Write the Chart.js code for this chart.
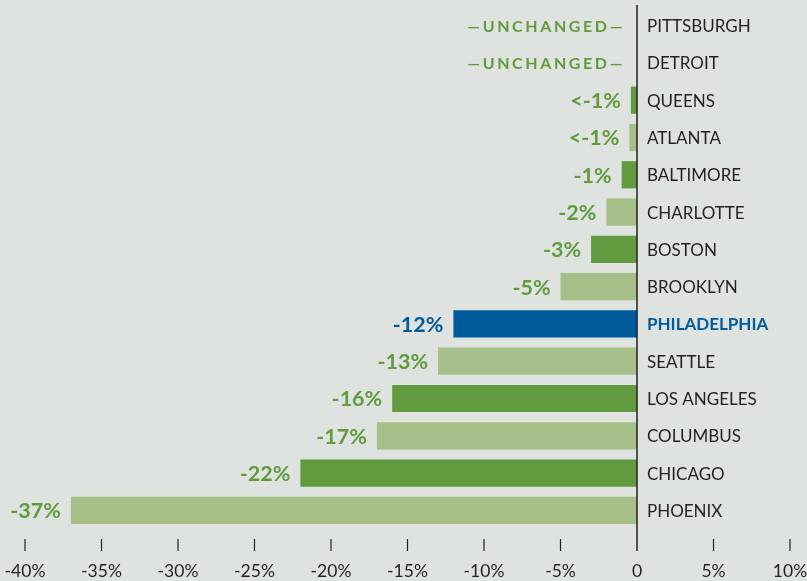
<!DOCTYPE html>
<html lang="en">
<head>
  <meta charset="UTF-8">
  <title>Change by city</title>
  <script src="https://cdn.jsdelivr.net/npm/chart.js"></script>
  <style>
    html, body {
      margin: 0;
      padding: 0;
      background-color: #dee3df;
    }
    .wrap {
      width: 807px;
      height: 581px;
    }
  </style>
</head>
<body>
  <div class="wrap">
    <canvas id="chartCity" width="807" height="581"></canvas>
  </div>

<script>
  // data
  const cities = ['PITTSBURGH', 'DETROIT', 'QUEENS', 'ATLANTA', 'BALTIMORE', 'CHARLOTTE', 'BOSTON',
    'BROOKLYN', 'PHILADELPHIA', 'SEATTLE', 'LOS ANGELES', 'COLUMBUS', 'CHICAGO', 'PHOENIX'];
  const changes = [0, 0, -0.4, -0.5, -1, -2, -3, -5, -12, -13, -16, -17, -22, -37];
  const valueLabels = ['\u2014UNCHANGED\u2014', '\u2014UNCHANGED\u2014', '<-1%', '<-1%', '-1%', '-2%', '-3%',
    '-5%', '-12%', '-13%', '-16%', '-17%', '-22%', '-37%'];
  const tickValues = [-40, -35, -30, -25, -20, -15, -10, -5, 0, 5, 10];
  const tickLabels = ['-40%', '-35%', '-30%', '-25%', '-20%', '-15%', '-10%', '-5%', '0', '5%', '10%'];

  const DARK = '#629a3f';
  const LIGHT = '#a6be87';
  const BLUE = '#005a9b';
  const INK = '#231f20';
  const FONT = 'Lato, "Noto Sans", sans-serif';

  const barColors = cities.map((c, i) => {
    if (c === 'PHILADELPHIA') return BLUE;
    return i % 2 === 0 ? DARK : LIGHT;
  });

  // labels, zero line and the bottom axis are drawn by hand
  const decorations = {
    id: 'decorations',
    afterDatasetsDraw(chart) {
      const ctx = chart.ctx;
      const x = chart.scales.x;
      const y = chart.scales.y;
      const zero = x.getPixelForValue(0);

      ctx.save();
      // zero line
      ctx.strokeStyle = INK;
      ctx.lineWidth = 1.5;
      ctx.beginPath();
      ctx.moveTo(zero, 5);
      ctx.lineTo(zero, 551);
      ctx.stroke();

      ctx.textBaseline = 'middle';
      cities.forEach((c, i) => {
        const cy = y.getPixelForValue(i);
        const isPhilly = c === 'PHILADELPHIA';

        // city name
        ctx.textAlign = 'left';
        ctx.fillStyle = isPhilly ? BLUE : INK;
        ctx.font = (isPhilly ? 'bold ' : '') + '17px ' + FONT;
        ctx.letterSpacing = '0px';
        ctx.fillText(c, zero + 10, cy + 1);

        // value label
        ctx.textAlign = 'right';
        ctx.fillStyle = isPhilly ? BLUE : DARK;
        if (changes[i] === 0) {
          ctx.font = 'bold 16px ' + FONT;
          ctx.letterSpacing = '2.6px';
          ctx.fillText(valueLabels[i], zero - 12, cy + 1);
        } else {
          ctx.font = 'bold 21.5px ' + FONT;
          ctx.letterSpacing = '0px';
          const end = x.getPixelForValue(changes[i]);
          ctx.fillText(valueLabels[i], Math.min(end - 10, zero - 14), cy + 1);
        }
      });
      ctx.letterSpacing = '0px';

      // bottom ticks
      ctx.strokeStyle = INK;
      ctx.lineWidth = 1.2;
      ctx.fillStyle = INK;
      ctx.font = '17.5px ' + FONT;
      ctx.textAlign = 'center';
      tickValues.forEach((v, i) => {
        const tx = x.getPixelForValue(v);
        if (v !== 0) {
          ctx.beginPath();
          ctx.moveTo(tx, 539);
          ctx.lineTo(tx, 551);
          ctx.stroke();
        }
        ctx.fillText(tickLabels[i], tx, 571);
      });
      ctx.restore();
    }
  };

  new Chart(document.getElementById('chartCity'), {
    type: 'bar',
    data: {
      labels: cities,
      datasets: [{
        data: changes,
        backgroundColor: barColors,
        borderWidth: 0,
        barPercentage: 0.73,
        categoryPercentage: 1
      }]
    },
    options: {
      indexAxis: 'y',
      responsive: false,
      animation: false,
      layout: {
        padding: { top: 7, bottom: 52, left: 25, right: 17 }
      },
      plugins: {
        legend: { display: false },
        tooltip: { enabled: false }
      },
      scales: {
        x: { display: false, min: -40, max: 10 },
        y: { display: false }
      }
    },
    plugins: [decorations]
  });
</script>
</body>
</html>
